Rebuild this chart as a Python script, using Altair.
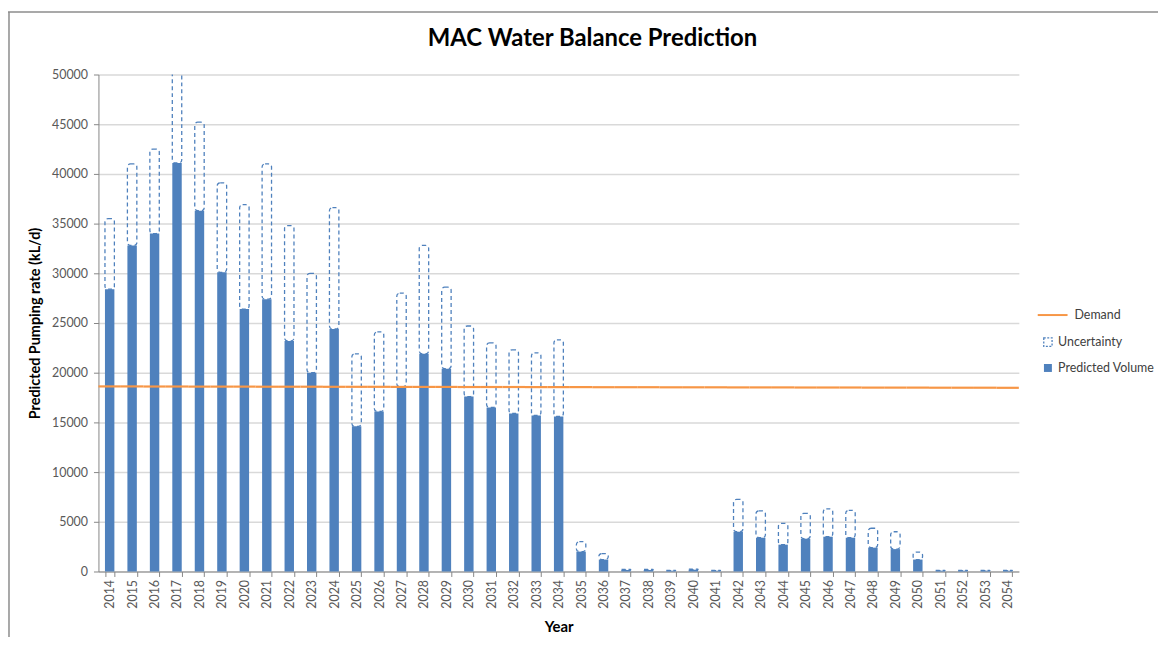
import altair as alt
import pandas as pd

years = ["2014", "2015", "2016", "2017", "2018", "2019", "2020", "2021", "2022", "2023",
         "2024", "2025", "2026", "2027", "2028", "2029", "2030", "2031", "2032", "2033",
         "2034", "2035", "2036", "2037", "2038", "2039", "2040", "2041", "2042", "2043",
         "2044", "2045", "2046", "2047", "2048", "2049", "2050", "2051", "2052", "2053",
         "2054"]
predicted = [28400, 32800, 34000, 41100, 36300, 30100, 26400, 27400, 23200, 20000,
             24400, 14600, 16100, 18600, 21900, 20400, 17600, 16500, 15900, 15700,
             15600, 2000, 1200, 150, 150, 80, 180, 80, 4000, 3400,
             2700, 3300, 3500, 3400, 2400, 2250, 1200, 80, 80, 80,
             80]
upper = [35500, 41000, 42500, 51500, 45200, 39100, 36900, 41000, 34800, 30000,
         36600, 21900, 24100, 28000, 32800, 28600, 24700, 23000, 22300, 22000,
         23300, 3000, 1800, 200, 200, 110, 230, 110, 7250, 6100,
         4850, 5850, 6300, 6150, 4350, 4000, 1950, 110, 110, 110,
         110]
demand = [18620, 18620, 18610, 18610, 18600, 18600, 18600, 18590, 18590, 18590,
          18580, 18580, 18580, 18570, 18570, 18570, 18560, 18560, 18560, 18550,
          18550, 18550, 18540, 18540, 18540, 18530, 18530, 18530, 18520, 18520,
          18520, 18510, 18510, 18510, 18500, 18500, 18500, 18490, 18490, 18490,
          18480]

df = pd.DataFrame({"Year": years, "Predicted": predicted, "Upper": upper, "Demand": demand})
df["yr"] = df["Year"].astype(int)
df["dser"] = "Demand"
df["user"] = "Uncertainty"
df["pser"] = "Predicted Volume"

FONT = "Lato"
BLUE = "#4f81bd"
ORANGE = "#f79646"
W, H = 926, 500
PAD = {"left": 91, "top": 65, "right": 140, "bottom": 66}
YTITLE = "Predicted Pumping rate (kL/d)"
yscale = alt.Scale(domain=[0, 50000], nice=False)
yaxis = alt.Axis(values=list(range(0, 50001, 5000)), format="d", tickSize=5, labelPadding=6,
                 titlePadding=9)

xband = alt.X("Year:N", sort=years, title="Year",
              scale=alt.Scale(paddingInner=0.58, paddingOuter=0.29),
              axis=alt.Axis(labelAngle=-90, tickBand="extent", tickSize=5,
                            labelPadding=3, titlePadding=11, grid=False))

unc = alt.Chart(df).mark_bar(fill="white", fillOpacity=0, strokeWidth=1.3,
                             strokeDash=[4, 3], cornerRadius=3, clip=True).encode(
    x=xband,
    y=alt.Y("Predicted:Q", title=YTITLE, scale=yscale, axis=yaxis),
    y2=alt.Y2("Upper:Q"),
    stroke=alt.Stroke("user:N", scale=alt.Scale(domain=["Uncertainty"], range=[BLUE]),
                      legend=alt.Legend(title=None, orient="none", legendX=949, legendY=263,
                                        symbolType="square", symbolSize=70, symbolDash=[2, 1.5],
                                        symbolStrokeWidth=1.3, symbolFillColor="white",
                                        labelOffset=4, padding=0)),
)

bars = alt.Chart(df).mark_bar(color=BLUE).encode(
    x=xband,
    y=alt.Y("Predicted:Q", title=YTITLE, scale=yscale, axis=yaxis),
    color=alt.Color("pser:N", scale=alt.Scale(domain=["Predicted Volume"], range=[BLUE]),
                    legend=alt.Legend(title=None, orient="none", legendX=949, legendY=289,
                                      symbolType="square", symbolSize=64, labelOffset=4,
                                      padding=0)),
)

dem = alt.Chart(df).transform_calculate(
    x0="datum.yr - 0.5", x1="datum.yr + 0.5"
).mark_rule(strokeWidth=2.2).encode(
    x=alt.X("x0:Q", scale=alt.Scale(domain=[2013.5, 2054.5], nice=False, zero=False), axis=None),
    x2="x1:Q",
    y=alt.Y("Demand:Q", title=YTITLE, scale=yscale, axis=yaxis),
    color=alt.Color("dser:N", scale=alt.Scale(domain=["Demand"], range=[ORANGE]),
                    legend=alt.Legend(title=None, orient="none", legendX=944, legendY=226,
                                      symbolType="stroke", symbolSize=900,
                                      symbolStrokeWidth=2, labelOffset=6, padding=0)),
)

# decorative chart-area frame (top and left edges), like the spreadsheet chart border
frame_df = pd.DataFrame({"k": [0]})
frame_top = alt.Chart(frame_df).mark_rule(color="#8c8c8c", strokeWidth=1.5).encode(
    x=alt.value(-PAD["left"]), x2=alt.value(W + PAD["right"]),
    y=alt.value(-63),
)
frame_left = alt.Chart(frame_df).mark_rule(color="#8c8c8c", strokeWidth=1.5).encode(
    x=alt.value(-PAD["left"] + 1), y=alt.value(-63), y2=alt.value(H + PAD["bottom"]),
)

inner = alt.layer(unc, bars).resolve_scale(color="independent", stroke="independent")

chart = alt.layer(inner, dem, frame_top, frame_left).resolve_scale(
    x="independent", color="independent"
).properties(
    width=W, height=H,
    autosize=alt.AutoSizeParams(type="none"),
    padding=PAD,
    title=alt.TitleParams("MAC Water Balance Prediction", font=FONT, fontSize=24,
                          fontWeight="bold", color="#000000", anchor="middle", dx=34,
                          offset=-40),
).configure(
    font=FONT,
).configure_view(
    stroke=None,
).configure_axis(
    labelFont=FONT, labelFontSize=12.5, labelColor="#595959",
    titleFont=FONT, titleFontWeight="bold", titleColor="#000000", titleFontSize=14.5,
    domainColor="#868686", tickColor="#868686", gridColor="#d9d9d9", gridWidth=1.5,
).configure_axisX(
    titleFontSize=15,
).configure_legend(
    labelFont=FONT, labelFontSize=12.5, labelColor="#404040",
)

chart.save("out.html", embed_options={"renderer": "svg", "actions": False})
